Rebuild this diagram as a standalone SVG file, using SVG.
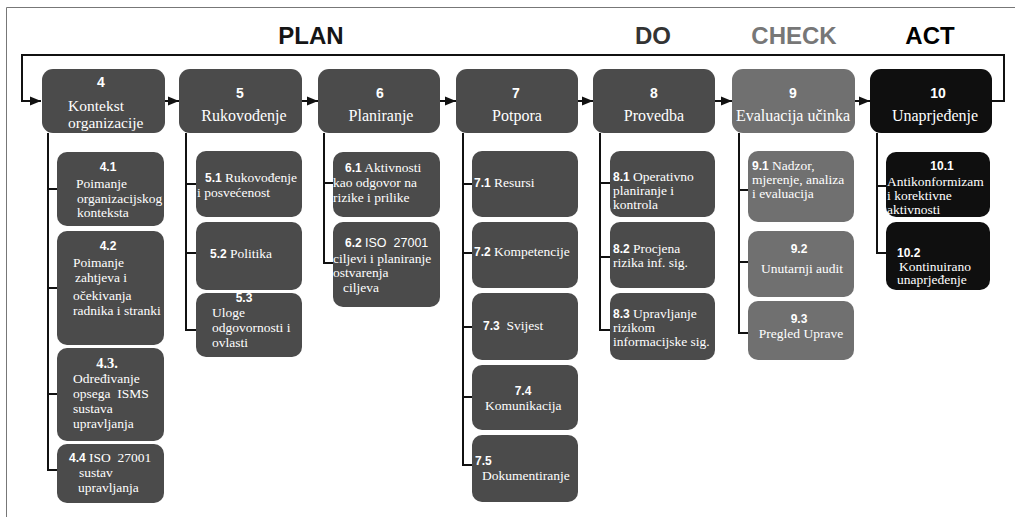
<svg xmlns="http://www.w3.org/2000/svg" width="1015" height="517" viewBox="0 0 1015 517">
  <defs>
    <marker id="arrow" markerUnits="userSpaceOnUse" markerWidth="12" markerHeight="10" refX="11" refY="5" orient="auto">
      <path d="M0,0.5 L11,5 L0,9.5 z" fill="#111"/>
    </marker>
    <style>
      .main { fill: #4b4b4b; }
      .check { fill: #707070; }
      .act { fill: #0f0f0f; }
      .num { font-family: "Liberation Sans", Arial, sans-serif; font-weight: bold; fill: #fff; }
      .lbl { font-family: "Liberation Serif", "Times New Roman", "DejaVu Serif", serif; fill: #fff; }
      .hn { font-size: 14px; }
      .hl { font-size: 16px; }
      .sn { font-size: 12px; }
      .sl { font-size: 13.5px; }
      .sans { font-family: "Liberation Sans", Arial, sans-serif; font-weight: normal; font-size: 12.5px; }
      .phase { font-family: "Liberation Sans", Arial, sans-serif; font-weight: bold; font-size: 24px; }
      .wire { fill: none; stroke: #111; stroke-width: 2; }
      .frame { fill: none; stroke: #777; stroke-width: 1; }
    </style>
  </defs>

  <rect width="1015" height="517" fill="#fff"/>
  <path class="frame" d="M6.5,517 V7.5 H1015"/>

  <!-- PDCA phase headings -->
  <g id="phases">
    <text class="phase" x="311" y="44" text-anchor="middle" fill="#151515">PLAN</text>
    <text class="phase" x="653" y="44" text-anchor="middle" fill="#333">DO</text>
    <text class="phase" x="794" y="44" text-anchor="middle" fill="#777">CHECK</text>
    <text class="phase" x="930" y="44" text-anchor="middle" fill="#000">ACT</text>
  </g>

  <!-- connectors -->
  <g id="connectors">
    <path class="wire" d="M992,101 H1004 V55 H22 V101 H41" marker-end="url(#arrow)"/>
    <path class="wire" d="M165,101 H179" marker-end="url(#arrow)"/>
    <path class="wire" d="M302,101 H318" marker-end="url(#arrow)"/>
    <path class="wire" d="M440,101 H456" marker-end="url(#arrow)"/>
    <path class="wire" d="M578,101 H593" marker-end="url(#arrow)"/>
    <path class="wire" d="M715,101 H732" marker-end="url(#arrow)"/>
    <path class="wire" d="M855,101 H870" marker-end="url(#arrow)"/>
    <!-- branch trunks with ticks to the sub-clauses -->
    <path class="wire" d="M48,133 V471 M47,189 H57 M47,288 H57 M47,394 H57 M47,470 H57"/>
    <path class="wire" d="M186,133 V331 M185,184 H196 M185,253 H196 M185,330 H196"/>
    <path class="wire" d="M324,133 V264 M323,183 H333 M323,263 H333"/>
    <path class="wire" d="M463,133 V466 M462,184 H472 M462,253 H472 M462,327 H472 M462,397 H472 M462,465 H472"/>
    <path class="wire" d="M600,133 V331 M599,183 H610 M599,257 H610 M599,330 H610"/>
    <path class="wire" d="M739,133 V334 M738,190 H748 M738,262 H748 M738,333 H748"/>
    <path class="wire" d="M877,133 V254 M876,186 H886 M876,253 H886"/>
  </g>

  <!-- clause 4 -->
  <g id="n4">
    <rect class="main" x="42" y="69" width="123" height="64" rx="11"/>
    <text class="num hn" x="101" y="87" text-anchor="middle">4</text>
    <text class="lbl" x="68" y="111" font-size="15.5px">Kontekst</text>
    <text class="lbl" x="68" y="128" font-size="15.5px">organizacije</text>
  </g>
  <g id="n4-1">
    <rect class="main" x="57" y="152" width="107" height="74" rx="10"/>
    <text class="num sn" x="108" y="171" text-anchor="middle">4.1</text>
    <text class="lbl sl" x="76" y="188">Poimanje</text>
    <text class="lbl sl" x="77" y="203">organizacijskog</text>
    <text class="lbl sl" x="77" y="217">konteksta</text>
  </g>
  <g id="n4-2">
    <rect class="main" x="57" y="231" width="107" height="114" rx="10"/>
    <text class="num sn" x="108" y="250" text-anchor="middle">4.2</text>
    <text class="lbl sl" x="73" y="267">Poimanje</text>
    <text class="lbl sl" x="75" y="282">zahtjeva i</text>
    <text class="lbl sl" x="73" y="300">očekivanja</text>
    <text class="lbl sl" x="73" y="315">radnika i stranki</text>
  </g>
  <g id="n4-3">
    <rect class="main" x="57" y="348" width="107" height="93" rx="10"/>
    <text class="lbl" x="107" y="368" text-anchor="middle" font-weight="bold" font-size="14.5px">4.3.</text>
    <text class="lbl sl" x="73" y="383">Određivanje</text>
    <text class="lbl sl" x="73" y="398" xml:space="preserve">opsega  ISMS</text>
    <text class="lbl sl" x="73" y="413">sustava</text>
    <text class="lbl sl" x="73" y="428">upravljanja</text>
  </g>
  <g id="n4-4">
    <rect class="main" x="57" y="444" width="107" height="59" rx="10"/>
    <text class="lbl sl" x="69" y="462" xml:space="preserve"><tspan class="num sn">4.4</tspan> ISO  27001</text>
    <text class="lbl sl" x="79" y="477">sustav</text>
    <text class="lbl sl" x="78" y="492">upravljanja</text>
  </g>

  <!-- clause 5 -->
  <g id="n5">
    <rect class="main" x="179" y="69" width="123" height="64" rx="11"/>
    <text class="num hn" x="240" y="98" text-anchor="middle">5</text>
    <text class="lbl hl" x="244" y="121" text-anchor="middle">Rukovođenje</text>
  </g>
  <g id="n5-1">
    <rect class="main" x="196" y="151" width="106" height="66" rx="10"/>
    <text class="lbl sl" x="205" y="182"><tspan class="num sn">5.1</tspan> Rukovođenje</text>
    <text class="lbl sl" x="197" y="197">i posvećenost</text>
  </g>
  <g id="n5-2">
    <rect class="main" x="196" y="222" width="106" height="68" rx="10"/>
    <text class="lbl sl" x="210" y="258"><tspan class="num sn">5.2</tspan> Politika</text>
  </g>
  <g id="n5-3">
    <rect class="main" x="196" y="293" width="106" height="64" rx="10"/>
    <text class="num sn" x="244" y="302" text-anchor="middle">5.3</text>
    <text class="lbl sl" x="212" y="317">Uloge</text>
    <text class="lbl sl" x="212" y="332">odgovornosti i</text>
    <text class="lbl sl" x="212" y="347">ovlasti</text>
  </g>

  <!-- clause 6 -->
  <g id="n6">
    <rect class="main" x="318" y="69" width="122" height="64" rx="11"/>
    <text class="num hn" x="380" y="98" text-anchor="middle">6</text>
    <text class="lbl hl" x="381" y="121" text-anchor="middle">Planiranje</text>
  </g>
  <g id="n6-1">
    <rect class="main" x="333" y="152" width="107" height="65" rx="10"/>
    <text class="lbl sl" x="345" y="172"><tspan class="num sn">6.1</tspan> Aktivnosti</text>
    <text class="lbl sl" x="333" y="187">kao odgovor na</text>
    <text class="lbl sl" x="333" y="202">rizike i prilike</text>
  </g>
  <g id="n6-2">
    <rect class="main" x="333" y="222" width="107" height="85" rx="10"/>
    <text class="lbl sl" x="345" y="247" xml:space="preserve"><tspan class="num sn">6.2</tspan> <tspan class="sans">ISO  27001</tspan></text>
    <text class="lbl sl" x="333" y="263">ciljevi i planiranje</text>
    <text class="lbl sl" x="333" y="277">ostvarenja</text>
    <text class="lbl sl" x="343" y="292">ciljeva</text>
  </g>

  <!-- clause 7 -->
  <g id="n7">
    <rect class="main" x="456" y="69" width="122" height="64" rx="11"/>
    <text class="num hn" x="516" y="98" text-anchor="middle">7</text>
    <text class="lbl hl" x="517" y="121" text-anchor="middle">Potpora</text>
  </g>
  <g id="n7-1">
    <rect class="main" x="472" y="151" width="106" height="66" rx="10"/>
    <text class="lbl sl" x="474" y="187"><tspan class="num sn">7.1</tspan> Resursi</text>
  </g>
  <g id="n7-2">
    <rect class="main" x="472" y="222" width="106" height="66" rx="10"/>
    <text class="lbl sl" x="474" y="256"><tspan class="num sn">7.2</tspan> Kompetencije</text>
  </g>
  <g id="n7-3">
    <rect class="main" x="472" y="293" width="106" height="67" rx="10"/>
    <text class="lbl sl" x="483" y="330" xml:space="preserve"><tspan class="num sn">7.3</tspan>  Svijest</text>
  </g>
  <g id="n7-4">
    <rect class="main" x="472" y="365" width="106" height="65" rx="10"/>
    <text class="num sn" x="523" y="395" text-anchor="middle">7.4</text>
    <text class="lbl sl" x="485" y="410">Komunikacija</text>
  </g>
  <g id="n7-5">
    <rect class="main" x="472" y="435" width="106" height="67" rx="10"/>
    <text class="num sn" x="475" y="465">7.5</text>
    <text class="lbl sl" x="482" y="480">Dokumentiranje</text>
  </g>

  <!-- clause 8 -->
  <g id="n8">
    <rect class="main" x="593" y="69" width="122" height="64" rx="11"/>
    <text class="num hn" x="654" y="98" text-anchor="middle">8</text>
    <text class="lbl hl" x="654" y="121" text-anchor="middle">Provedba</text>
  </g>
  <g id="n8-1">
    <rect class="main" x="610" y="151" width="105" height="66" rx="10"/>
    <text class="lbl sl" x="613" y="181"><tspan class="num sn">8.1</tspan> Operativno</text>
    <text class="lbl sl" x="613" y="195">planiranje i</text>
    <text class="lbl sl" x="613" y="209">kontrola</text>
  </g>
  <g id="n8-2">
    <rect class="main" x="610" y="222" width="105" height="66" rx="10"/>
    <text class="lbl sl" x="613" y="253"><tspan class="num sn">8.2</tspan> Procjena</text>
    <text class="lbl sl" x="613" y="267">rizika inf. sig.</text>
  </g>
  <g id="n8-3">
    <rect class="main" x="610" y="293" width="105" height="67" rx="10"/>
    <text class="lbl sl" x="613" y="318"><tspan class="num sn">8.3</tspan> Upravljanje</text>
    <text class="lbl sl" x="613" y="332">rizikom</text>
    <text class="lbl sl" x="613" y="346">informacijske sig.</text>
  </g>

  <!-- clause 9 -->
  <g id="n9">
    <rect class="check" x="732" y="69" width="123" height="64" rx="11"/>
    <text class="num hn" x="793" y="98" text-anchor="middle">9</text>
    <text class="lbl hl" x="793" y="121" text-anchor="middle">Evaluacija učinka</text>
  </g>
  <g id="n9-1">
    <rect class="check" x="748" y="151" width="106" height="71" rx="10"/>
    <text class="lbl sl" x="752" y="170"><tspan class="num sn">9.1</tspan> Nadzor,</text>
    <text class="lbl sl" x="752" y="184">mjerenje, analiza</text>
    <text class="lbl sl" x="752" y="198">i evaluacija</text>
  </g>
  <g id="n9-2">
    <rect class="check" x="748" y="231" width="106" height="66" rx="10"/>
    <text class="num sn" x="799" y="253" text-anchor="middle">9.2</text>
    <text class="lbl sl" x="802" y="273" text-anchor="middle">Unutarnji audit</text>
  </g>
  <g id="n9-3">
    <rect class="check" x="748" y="301" width="106" height="59" rx="10"/>
    <text class="num sn" x="799" y="323" text-anchor="middle">9.3</text>
    <text class="lbl sl" x="801" y="338" text-anchor="middle">Pregled Uprave</text>
  </g>

  <!-- clause 10 -->
  <g id="n10">
    <rect class="act" x="870" y="69" width="122" height="64" rx="11"/>
    <text class="num hn" x="938" y="98" text-anchor="middle">10</text>
    <text class="lbl hl" x="935" y="121" text-anchor="middle">Unaprjeđenje</text>
  </g>
  <g id="n10-1">
    <rect class="act" x="886" y="152" width="104" height="65" rx="10"/>
    <text class="num sn" x="942" y="170" text-anchor="middle">10.1</text>
    <text class="lbl sl" x="887" y="186">Antikonformizam</text>
    <text class="lbl sl" x="887" y="200">i korektivne</text>
    <text class="lbl sl" x="887" y="214">aktivnosti</text>
  </g>
  <g id="n10-2">
    <rect class="act" x="886" y="222" width="104" height="68" rx="10"/>
    <text class="num sn" x="897" y="257">10.2</text>
    <text class="lbl sl" x="899" y="271">Kontinuirano</text>
    <text class="lbl sl" x="897" y="284">unaprjeđenje</text>
  </g>
</svg>
